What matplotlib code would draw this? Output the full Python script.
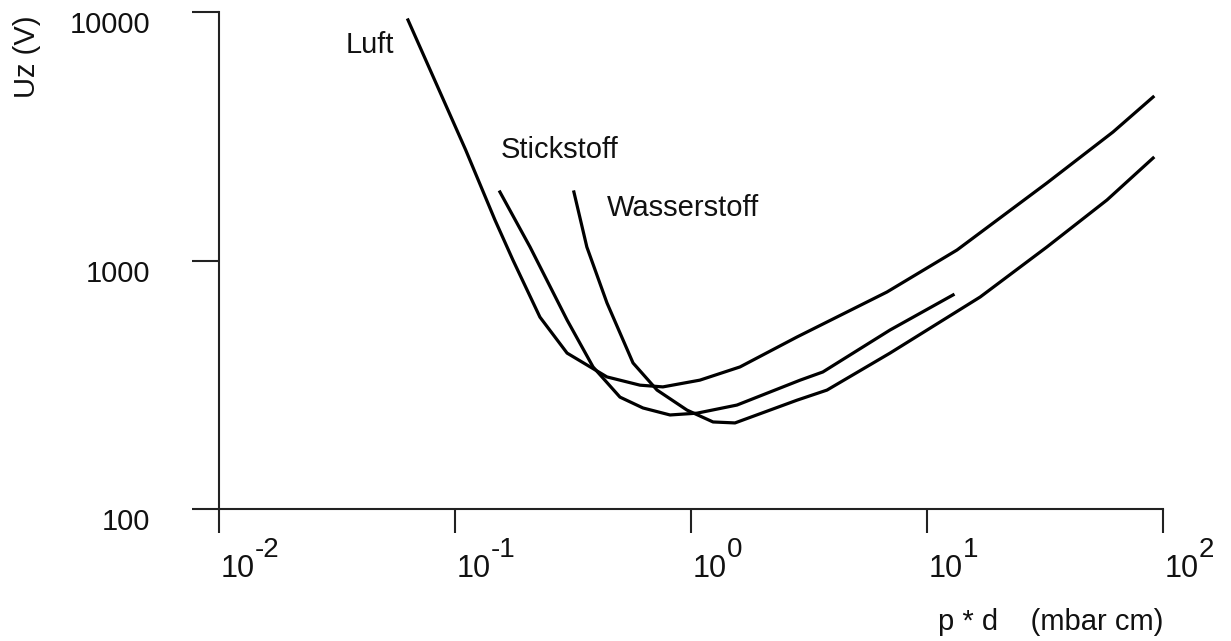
import matplotlib
matplotlib.use("Agg")
import matplotlib.pyplot as plt

plt.rcParams['font.family'] = ['Liberation Sans', 'DejaVu Sans']

# Data (p*d in mbar cm, Uz in V)
luft_pd = [0.0632, 0.1110, 0.1477, 0.176, 0.229, 0.2985, 0.4405, 0.608, 0.760,
           1.09, 1.613, 2.81, 6.77, 13.4, 32.2, 61.4, 90.8]
luft_u = [9290, 2784, 1455, 1004, 592, 424, 340, 315, 310,
          330, 373, 492, 747, 1102, 2050, 3289, 4549]

stick_pd = [0.155, 0.208, 0.2985, 0.3846, 0.500, 0.626, 0.815, 1.06, 1.566,
            2.90, 3.62, 6.97, 12.9]
stick_u = [1887, 1133, 576, 373, 282, 255, 239, 243, 262,
           330, 356, 525, 727]

wasser_pd = [0.319, 0.362, 0.4405, 0.568, 0.718, 0.962, 1.24, 1.536, 2.81,
             3.77, 6.97, 16.8, 32.2, 57.9, 90.8]
wasser_u = [1887, 1133, 675, 387, 301, 250, 224, 222, 274,
            301, 424, 713, 1133, 1752, 2585]

curve_labels = ["Luft", "Stickstoff", "Wasserstoff"]
label_pos = [(0.0437, 7360), (0.2787, 2784), (0.925, 1626)]

x_ticks = [1e-2, 1e-1, 1e0, 1e1, 1e2]
x_exps = ["-2", "-1", "0", "1", "2"]
y_ticks = [100, 1000, 10000]
y_tick_labels = ["100", "1000", "10000"]

fig = plt.figure(figsize=(12.31, 6.41), dpi=100)
ax = fig.add_axes([219/1231, 1 - 509/641, (1163-219)/1231, (509-12)/641])

ax.set_xscale('log')
ax.set_yscale('log')
ax.set_xlim(1e-2, 1e2)
ax.set_ylim(100, 10000)

for xs, ys in [(luft_pd, luft_u), (stick_pd, stick_u), (wasser_pd, wasser_u)]:
    ax.plot(xs, ys, color='black', lw=2.3, solid_joinstyle='round', clip_on=False)

for lab, (lx, ly) in zip(curve_labels, label_pos):
    ax.text(lx, ly, lab, fontsize=21, ha='center', va='center', color='#111111')

for s in ['top', 'right']:
    ax.spines[s].set_visible(False)
for s in ['left', 'bottom']:
    ax.spines[s].set_linewidth(1.5)
    ax.spines[s].set_color('#222222')

ax.set_xticks(x_ticks)
ax.set_yticks(y_ticks)
ax.minorticks_off()
ax.tick_params(axis='x', direction='out', length=17.3, width=1.5, color='#222222',
               labelbottom=False)
ax.tick_params(axis='y', direction='out', length=19.4, width=1.5, color='#222222',
               labelleft=False)

for v, e in zip(x_ticks, x_exps):
    ax.annotate("10", xy=(v, 0), xycoords=('data', 'axes fraction'),
                xytext=(1.0, -49.0), textcoords='offset points',
                ha='left', va='baseline', fontsize=22, color='#111111',
                annotation_clip=False)
    ax.annotate(e, xy=(v, 0), xycoords=('data', 'axes fraction'),
                xytext=(26.0, -34.6), textcoords='offset points',
                ha='left', va='baseline', fontsize=20, color='#111111',
                annotation_clip=False)

for v, t in zip(y_ticks, y_tick_labels):
    ax.annotate(t, xy=(0, v), xycoords=('axes fraction', 'data'),
                xytext=(-49.5, -9.4), textcoords='offset points',
                ha='right', va='center', fontsize=21, color='#111111',
                annotation_clip=False)

ax.text(1.0, -0.227, "p * d    (mbar cm)", transform=ax.transAxes,
        ha='right', va='center', fontsize=21, color='#111111')
ax.text(-0.2034, 0.9095, "Uz (V)", transform=ax.transAxes, rotation=90,
        ha='center', va='center', fontsize=21, color='#111111')

fig.savefig("out.png", dpi=100)
